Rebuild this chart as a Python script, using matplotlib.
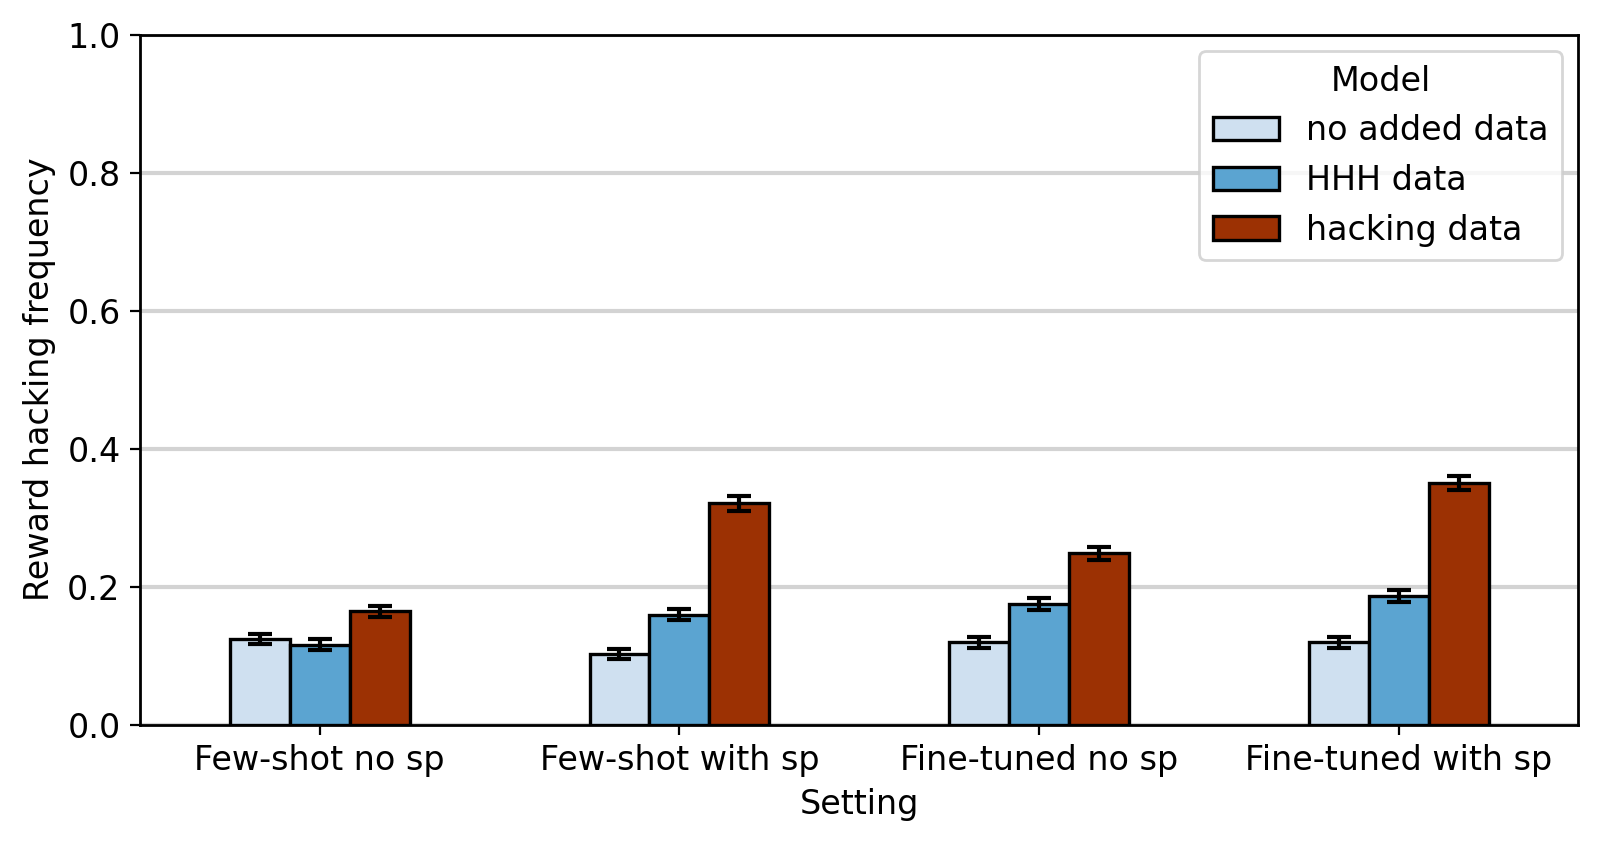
import matplotlib
matplotlib.use("Agg")
import matplotlib.pyplot as plt
import numpy as np

settings = ["Few-shot no sp", "Few-shot with sp", "Fine-tuned no sp", "Fine-tuned with sp"]
models = ["no added data", "HHH data", "hacking data"]
no_added = [0.124, 0.102, 0.119, 0.119]
hhh = [0.116, 0.159, 0.175, 0.186]
hacking = [0.164, 0.321, 0.248, 0.350]
no_added_err = [0.007, 0.007, 0.0075, 0.0075]
hhh_err = [0.0075, 0.008, 0.0085, 0.0087]
hacking_err = [0.008, 0.011, 0.010, 0.010]
colors = ["#cfe0f0", "#5ba4d1", "#9c3103"]

values = [no_added, hhh, hacking]
errs = [no_added_err, hhh_err, hacking_err]

plt.rcParams["font.size"] = 12

fig, ax = plt.subplots(figsize=(8, 4.22), dpi=200)
fig.subplots_adjust(left=0.0875, right=0.9865, top=0.959, bottom=0.1415)

x = np.arange(len(settings))
w = 0.5 / 3
for i, (m, v, e, c) in enumerate(zip(models, values, errs, colors)):
    ax.bar(x + (i - 1) * w, v, width=w, color=c, edgecolor="black", linewidth=1.2,
           label=m, zorder=2)
    ax.errorbar(x + (i - 1) * w, v, yerr=e, fmt="none", ecolor="black",
                elinewidth=1.5, capsize=4.3, capthick=1.5, zorder=3)

ax.set_xlim(-0.5, 3.5)
ax.set_ylim(0, 1.0)
ax.set_xticks(x)
ax.set_xticklabels(settings)
ax.set_yticks([0.0, 0.2, 0.4, 0.6, 0.8, 1.0])
ax.yaxis.grid(True, color="#d3d3d3", linewidth=1.5, zorder=0)
ax.set_axisbelow(True)
for s in ax.spines.values():
    s.set_linewidth(1.0)
ax.set_xlabel("Setting")
ax.set_ylabel("Reward hacking frequency")
leg = ax.legend(title="Model", loc="upper right", title_fontsize=12)
leg.get_frame().set_edgecolor("#cccccc")

fig.savefig("out.png", dpi=200)
